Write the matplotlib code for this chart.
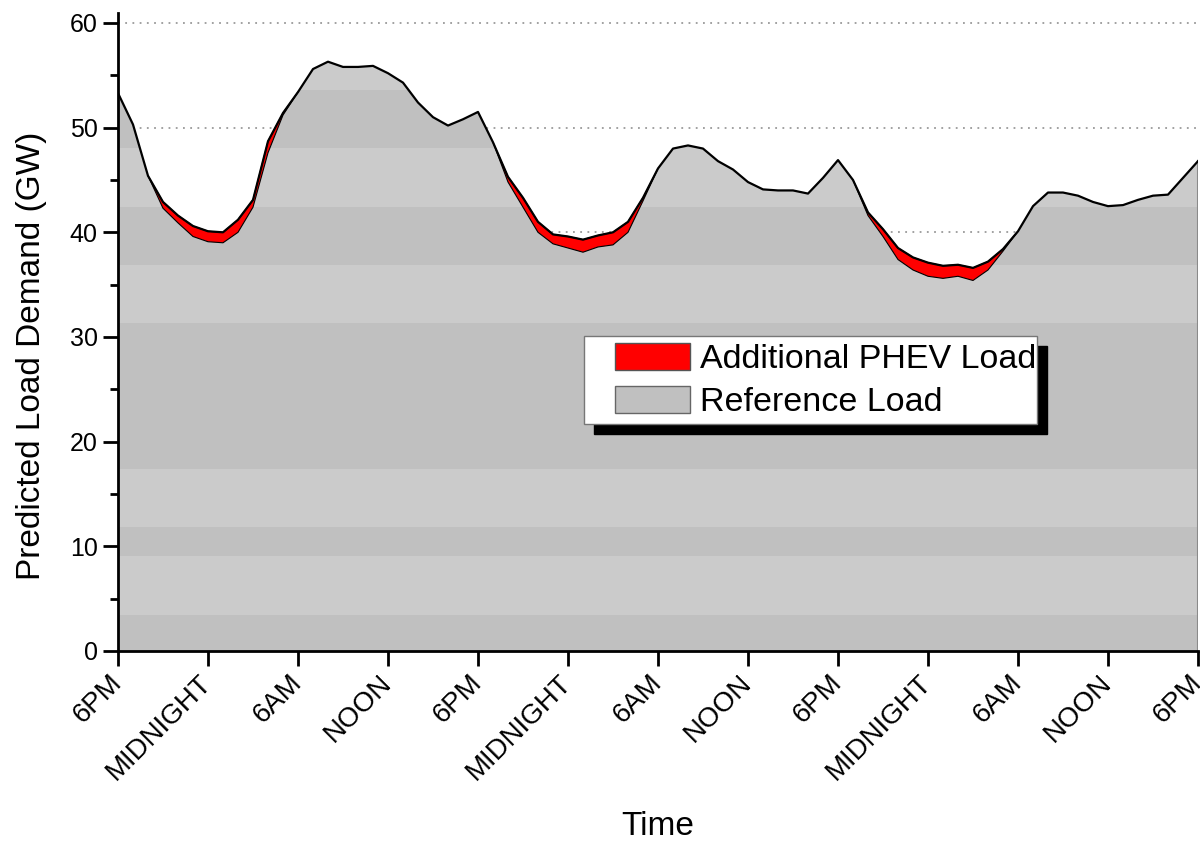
import numpy as np
import matplotlib
matplotlib.use("Agg")
import matplotlib.pyplot as plt
from matplotlib.patches import Patch, Rectangle

# ---------------- data ----------------
hours = list(range(0, 73))
tick_positions = list(range(0, 73, 6))
tick_labels = ["6PM", "MIDNIGHT", "6AM", "NOON", "6PM", "MIDNIGHT", "6AM",
               "NOON", "6PM", "MIDNIGHT", "6AM", "NOON", "6PM"]

reference_load = [
    53.3, 50.3, 45.4, 42.3, 40.9, 39.6, 39.1, 39.0, 40.0, 42.4,
    47.6, 51.2, 53.4, 55.6, 56.3, 55.8, 55.8, 55.9, 55.2, 54.3,
    52.4, 51.0, 50.2, 50.8, 51.5, 48.6, 44.8, 42.4, 40.0, 38.9,
    38.5, 38.1, 38.6, 38.8, 40.0, 43.0, 46.1, 48.0, 48.3, 48.0,
    46.8, 46.0, 44.8, 44.1, 44.0, 44.0, 43.7, 45.2, 46.9, 45.0,
    41.6, 39.6, 37.4, 36.4, 35.8, 35.6, 35.8, 35.4, 36.4, 38.2,
    40.1, 42.5, 43.8, 43.8, 43.5, 42.9, 42.5, 42.6, 43.1, 43.5,
    43.6, 45.2, 46.8,
]
total_load = [
    53.3, 50.3, 45.4, 42.9, 41.6, 40.6, 40.1, 40.0, 41.2, 43.1,
    48.7, 51.4, 53.4, 55.6, 56.3, 55.8, 55.8, 55.9, 55.2, 54.3,
    52.4, 51.0, 50.2, 50.8, 51.5, 48.6, 45.3, 43.3, 41.0, 39.8,
    39.6, 39.3, 39.7, 40.0, 41.0, 43.3, 46.1, 48.0, 48.3, 48.0,
    46.8, 46.0, 44.8, 44.1, 44.0, 44.0, 43.7, 45.2, 46.9, 45.0,
    41.9, 40.3, 38.5, 37.6, 37.1, 36.8, 36.9, 36.6, 37.2, 38.4,
    40.1, 42.5, 43.8, 43.8, 43.5, 42.9, 42.5, 42.6, 43.1, 43.5,
    43.6, 45.2, 46.8,
]

# ---------------- style ----------------
light_gray = "#CBCBCB"
dark_gray = "#C0C0C0"
dark_bands = [(0.0, 3.44), (9.08, 11.85), (17.4, 31.3), (36.9, 42.4), (48.06, 53.6)]

plt.rcParams["font.family"] = ["Liberation Sans", "DejaVu Sans"]

fig = plt.figure(figsize=(12, 8.41), dpi=100)
ax = fig.add_axes([118 / 1200, 1 - 651 / 841, 1080 / 1200, 638.5 / 841])

x = np.array(hours, dtype=float)
ref = np.array(reference_load)
tot = np.array(total_load)

# grid (below everything)
ax.set_axisbelow(True)
ax.yaxis.grid(True, color="#9a9a9a", linestyle=(0, (1, 3)), linewidth=1.3)
ax.xaxis.grid(False)

# reference area with banded shading
poly = ax.fill_between(x, 0, ref, facecolor=light_gray, edgecolor="none", zorder=2)
clip_path = poly.get_paths()[0]
for lo, hi in dark_bands:
    band = ax.axhspan(lo, hi, facecolor=dark_gray, edgecolor="none", zorder=2.1)
    band.set_clip_path(clip_path, transform=ax.transData)

# right edge of area
ax.plot([x[-1], x[-1]], [0, ref[-1]], color="#8a8a8a", lw=1.5, zorder=2.2)

# additional PHEV load
ax.fill_between(x, ref, tot, where=tot > ref + 1e-9, interpolate=True,
                facecolor="#FF0000", edgecolor="black", linewidth=0.8, zorder=3)
ax.plot(x, tot, color="black", lw=1.6, zorder=4)

# axes
ax.set_xlim(0, 72)
ax.set_ylim(0, 61)
ax.set_xticks(tick_positions)
ax.set_xticklabels(tick_labels)
ax.set_yticks(range(0, 61, 10))
ax.set_yticks(range(5, 61, 10), minor=True)
for s in ["top", "right"]:
    ax.spines[s].set_visible(False)
for s in ["left", "bottom"]:
    ax.spines[s].set_linewidth(2.0)
    ax.spines[s].set_zorder(5)
ax.tick_params(axis="both", which="major", direction="out", length=11, width=2.0,
               labelsize=18)
ax.tick_params(axis="y", which="minor", direction="out", length=6, width=2.0)
ax.tick_params(axis="x", which="major", pad=9)
for lbl in ax.get_xticklabels():
    lbl.set_rotation(45)
    lbl.set_ha("right")
    lbl.set_va("center")
    lbl.set_rotation_mode("anchor")
    lbl.set_fontsize(20)

ax.set_ylabel("Predicted Load Demand (GW)", fontsize=24)
ax.yaxis.set_label_coords(-0.066, 0.462)
ax.set_xlabel("Time", fontsize=24, labelpad=19)

# legend frame with hard black shadow
fx0, fx1 = (584 - 118) / 1080, (1037 - 118) / 1080
fy1, fy0 = (651 - 336) / 638.5, (651 - 424) / 638.5
dx, dy = 10 / 1080, 10 / 638.5
ax.add_patch(Rectangle((fx0 + dx, fy0 - dy), fx1 - fx0, fy1 - fy0, transform=ax.transAxes,
                       facecolor="black", edgecolor="black", zorder=6))
ax.add_patch(Rectangle((fx0, fy0), fx1 - fx0, fy1 - fy0, transform=ax.transAxes,
                       facecolor="white", edgecolor="#777777", lw=1.0, zorder=7))

handles = [Patch(facecolor="#FF0000", edgecolor="#555555", lw=1.0),
           Patch(facecolor=dark_gray, edgecolor="#666666", lw=1.0)]
leg = ax.legend(handles, ["Additional PHEV Load", "Reference Load"],
                loc="upper left", bbox_to_anchor=((615 - 118) / 1080, (651 - 343) / 638.5),
                frameon=False, fontsize=24.5, borderpad=0, borderaxespad=0,
                handlelength=2.2, handleheight=0.85, handletextpad=0.3,
                labelspacing=0.3)
leg.set_zorder(8)

fig.savefig("out.png", dpi=100)
